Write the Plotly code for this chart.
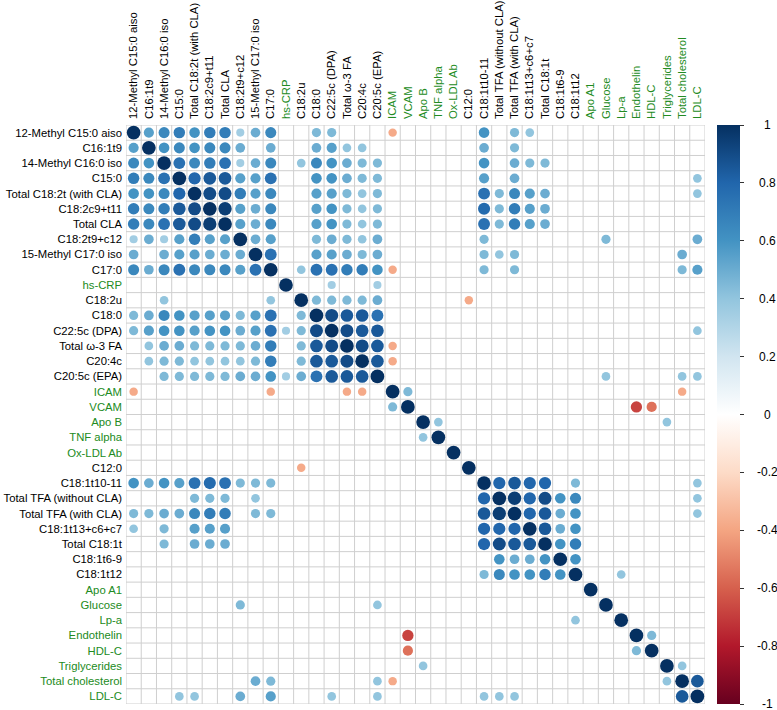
import numpy as np
import plotly.graph_objects as go

# ---------------- data ----------------
variables = [
    "12-Methyl C15:0 aiso", "C16:1t9", "14-Methyl C16:0 iso", "C15:0",
    "Total C18:2t (with CLA)", "C18:2c9+t11", "Total CLA", "C18:2t9+c12",
    "15-Methyl C17:0 iso", "C17:0", "hs-CRP", "C18:2u", "C18:0",
    "C22:5c (DPA)", "Total ω-3 FA", "C20:4c", "C20:5c (EPA)", "ICAM", "VCAM",
    "Apo B", "TNF alpha", "Ox-LDL Ab", "C12:0", "C18:1t10-11",
    "Total TFA (without CLA)", "Total TFA (with CLA)", "C18:1t13+c6+c7",
    "Total C18:1t", "C18:1t6-9", "C18:1t12", "Apo A1", "Glucose", "Lp-a",
    "Endothelin", "HDL-C", "Triglycerides", "Total cholesterol", "LDL-C",
]

clinical_markers = [
    "hs-CRP", "ICAM", "VCAM", "Apo B", "TNF alpha", "Ox-LDL Ab", "Apo A1",
    "Glucose", "Lp-a", "Endothelin", "HDL-C", "Triglycerides",
    "Total cholesterol", "LDL-C",
]

# significant correlations (upper triangle): row index -> {column index: r}
corr_upper = {
    0: {1: 0.55, 2: 0.65, 3: 0.7, 4: 0.6, 5: 0.7, 6: 0.7, 7: 0.35, 8: 0.5, 9: 0.65,
        12: 0.45, 13: 0.45, 17: -0.38, 23: 0.6, 25: 0.45, 26: 0.4},
    1: {2: 0.6, 3: 0.65, 4: 0.6, 5: 0.65, 6: 0.65, 7: 0.5, 9: 0.5, 12: 0.5, 13: 0.55,
        14: 0.4, 15: 0.4, 23: 0.5, 25: 0.45},
    2: {3: 0.75, 4: 0.65, 5: 0.7, 6: 0.75, 7: 0.35, 8: 0.5, 9: 0.65, 11: 0.4, 12: 0.65,
        13: 0.6, 14: 0.5, 15: 0.45, 16: 0.45, 23: 0.6, 25: 0.5, 26: 0.45, 27: 0.45},
    3: {4: 0.8, 5: 0.85, 6: 0.85, 7: 0.55, 8: 0.55, 9: 0.75, 12: 0.6, 13: 0.6, 14: 0.5,
        15: 0.45, 16: 0.45, 23: 0.55, 25: 0.5, 37: 0.4},
    4: {5: 0.9, 6: 0.9, 7: 0.7, 8: 0.55, 9: 0.65, 12: 0.55, 13: 0.55, 14: 0.45, 15: 0.4,
        16: 0.45, 23: 0.75, 24: 0.45, 25: 0.65, 26: 0.55, 27: 0.5, 37: 0.4},
    5: {6: 0.95, 7: 0.55, 8: 0.5, 9: 0.65, 12: 0.55, 13: 0.6, 14: 0.45, 15: 0.4, 16: 0.45,
        23: 0.78, 24: 0.45, 25: 0.7, 26: 0.55, 27: 0.5},
    6: {7: 0.55, 8: 0.5, 9: 0.65, 12: 0.55, 13: 0.6, 14: 0.45, 15: 0.4, 16: 0.45,
        23: 0.75, 24: 0.45, 25: 0.7, 26: 0.55, 27: 0.5},
    7: {8: 0.5, 9: 0.55, 12: 0.45, 13: 0.5, 14: 0.45, 15: 0.4, 16: 0.5, 23: 0.45,
        31: 0.45, 37: 0.5},
    8: {9: 0.75, 12: 0.55, 13: 0.55, 14: 0.5, 15: 0.45, 16: 0.5, 23: 0.45, 24: 0.4,
        25: 0.45, 36: 0.5},
    9: {11: 0.4, 12: 0.75, 13: 0.75, 14: 0.7, 15: 0.7, 16: 0.6, 17: -0.38, 23: 0.45,
        25: 0.45, 36: 0.45, 37: 0.55},
    10: {13: 0.35, 16: 0.35},
    11: {12: 0.45, 13: 0.45, 14: 0.45, 15: 0.45, 16: 0.5, 22: -0.38},
    12: {13: 0.9, 14: 0.85, 15: 0.85, 16: 0.75},
    13: {14: 0.9, 15: 0.85, 16: 0.85, 37: 0.4},
    14: {15: 0.9, 16: 0.85, 17: -0.38},
    15: {16: 0.85, 17: -0.38},
    16: {31: 0.4, 36: 0.4, 37: 0.4},
    17: {18: 0.45, 36: -0.38},
    18: {33: -0.68, 34: -0.55},
    19: {20: 0.4, 35: 0.4},
    23: {24: 0.8, 25: 0.85, 26: 0.8, 27: 0.8, 29: 0.45, 37: 0.4},
    24: {25: 0.95, 26: 0.8, 27: 0.9, 28: 0.6, 29: 0.65, 37: 0.4},
    25: {26: 0.8, 27: 0.85, 28: 0.5, 29: 0.6, 37: 0.4},
    26: {27: 0.85, 28: 0.5, 29: 0.6},
    27: {28: 0.6, 29: 0.7},
    28: {29: 0.6},
    29: {32: 0.4},
    33: {34: 0.45},
    35: {36: 0.4},
    36: {37: 0.85},
}

colorbar_ticks = [1, 0.8, 0.6, 0.4, 0.2, 0, -0.2, -0.4, -0.6, -0.8, -1]

# ---------------- build matrix ----------------
n = len(variables)
M = np.full((n, n), np.nan)
np.fill_diagonal(M, 1.0)
for i, row in corr_upper.items():
    for j, v in row.items():
        M[i, j] = v
        M[j, i] = v

xs, ys, vals = [], [], []
for i in range(n):
    for j in range(n):
        if not np.isnan(M[i, j]):
            xs.append(j)
            ys.append(i)
            vals.append(M[i, j])
vals = np.array(vals)

# ---------------- layout geometry ----------------
W, H = 777, 710
L, T = 126, 125
PW = 579
cell = PW / n
R = W - L - PW
B = H - T - PW

rdbu = ["#67001F", "#B2182B", "#D6604D", "#F4A582", "#FDDBC7", "#FFFFFF",
        "#D1E5F0", "#92C5DE", "#4393C3", "#2166AC", "#053061"]
colorscale = [[k / 10, c] for k, c in enumerate(rdbu)]

GREEN = "#228B22"


def lab(name):
    if name in clinical_markers:
        return f'<span style="color:{GREEN}">{name}</span>'
    return name


ticktext = [lab(v) for v in variables]

sizes = 0.9 * np.sqrt(np.abs(vals)) * cell

fig = go.Figure()
fig.add_trace(go.Scatter(
    x=xs, y=ys, mode="markers",
    marker=dict(
        size=sizes, color=vals, colorscale=colorscale, cmin=-1, cmax=1,
        line=dict(width=0), opacity=1,
        showscale=True,
        colorbar=dict(
            x=(716.5 - L) / PW, xanchor="left", xpad=0, ypad=0,
            y=0.5, yanchor="middle", len=1, lenmode="fraction",
            thickness=23, outlinewidth=0,
            tickvals=colorbar_ticks, ticks="outside", ticklen=4,
            tickwidth=1, tickcolor="#333333", showticklabels=False,
        ),
    ),
    hoverinfo="skip", showlegend=False,
))

# grid lines
shapes = []
for k in range(n + 1):
    shapes.append(dict(type="line", xref="x", yref="y", x0=k - 0.5, x1=k - 0.5,
                       y0=-0.5, y1=n - 0.5, line=dict(color="#CFCFCF", width=1),
                       layer="below"))
    shapes.append(dict(type="line", xref="x", yref="y", y0=k - 0.5, y1=k - 0.5,
                       x0=-0.5, x1=n - 0.5, line=dict(color="#CFCFCF", width=1),
                       layer="below"))

annotations = []
for v in colorbar_ticks:
    annotations.append(dict(
        x=(767 - L) / PW, xref="paper", y=(v + 1) / 2, yref="paper",
        text=f"{v:g}", showarrow=False, xanchor="center", yanchor="middle",
        font=dict(size=12, color="#000000"),
    ))

fig.update_layout(
    width=W, height=H,
    margin=dict(l=L, r=R, t=T, b=B, pad=0, autoexpand=False),
    paper_bgcolor="white", plot_bgcolor="white",
    font=dict(family="Liberation Sans, Arial, sans-serif", size=11.3, color="#000000"),
    shapes=shapes, annotations=annotations,
    xaxis=dict(
        range=[-0.5, n - 0.5], side="top", tickmode="array",
        tickvals=list(range(n)), ticktext=ticktext, tickangle=-90,
        showgrid=False, zeroline=False, showline=False, ticks="",
        ticklabelstandoff=5, fixedrange=True, automargin=False,
    ),
    yaxis=dict(
        range=[n - 0.5, -0.5], tickmode="array",
        tickvals=list(range(n)), ticktext=ticktext,
        showgrid=False, zeroline=False, showline=False, ticks="",
        ticklabelstandoff=3, fixedrange=True, automargin=False,
    ),
)

fig.write_html(
    "out.html",
    config={"displayModeBar": False},
    post_script="document.body.style.margin='0px';document.body.style.padding='0px';",
)
